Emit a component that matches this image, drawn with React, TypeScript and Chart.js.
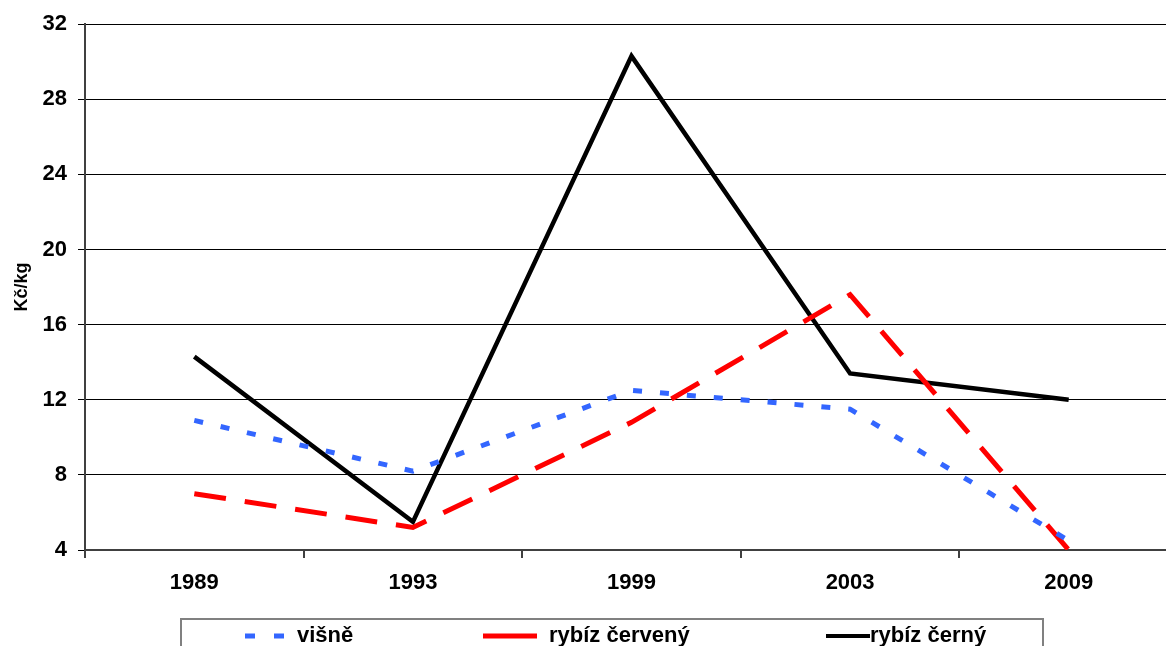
import React, { useEffect, useRef } from "react";
import { Chart, registerables } from "chart.js";

Chart.register(...registerables);

const years = ["1989", "1993", "1999", "2003", "2009"];
const visne = [10.9, 8.2, 12.5, 11.5, 4.5];
const rybizCerveny = [7.0, 5.2, 10.8, 17.6, 4.0];
const rybizCerny = [14.3, 5.5, 30.3, 13.4, 12.0];
const seriesLabels = ["višně", "rybíz červený", "rybíz černý"];
const yTitle = "Kč/kg";
const yMin = 4;
const yMax = 32;
const yStep = 4;

const FONT = "'Liberation Sans', Arial, sans-serif";

const legendLayout = [
  { x0: 245, x1: 285, tx: 297, dash: [10, 19], width: 5 },
  { x0: 483, x1: 537, tx: 549, dash: [], width: 5 },
  { x0: 826, x1: 870, tx: 870, dash: [], width: 4 },
];

const boxLegend = {
  id: "boxLegend",
  afterDraw(chart: any) {
    const ctx = chart.ctx;
    ctx.save();
    ctx.strokeStyle = "#808080";
    ctx.lineWidth = 2;
    ctx.setLineDash([]);
    ctx.strokeRect(181, 619, 862, 90);
    const y = 636;
    chart.data.datasets.forEach((ds: any, i: number) => {
      const l = legendLayout[i];
      ctx.beginPath();
      ctx.strokeStyle = ds.borderColor;
      ctx.lineWidth = l.width;
      ctx.lineCap = "butt";
      ctx.setLineDash(l.dash);
      ctx.moveTo(l.x0, y);
      ctx.lineTo(l.x1, y);
      ctx.stroke();
      ctx.setLineDash([]);
      ctx.fillStyle = "#000";
      ctx.font = `bold 22px ${FONT}`;
      ctx.textBaseline = "middle";
      ctx.textAlign = "left";
      ctx.fillText(ds.label, l.tx, y);
    });
    ctx.restore();
  },
};

export default function App() {
  const ref = useRef<HTMLCanvasElement | null>(null);

  useEffect(() => {
    if (!ref.current) return;
    const chart = new Chart(ref.current, {
      type: "line",
      data: {
        labels: years,
        datasets: [
          {
            label: seriesLabels[0],
            data: visne,
            borderColor: "#3366FF",
            borderWidth: 5,
            borderDash: [9, 18],
            borderCapStyle: "butt",
            pointRadius: 0,
            tension: 0,
            fill: false,
          },
          {
            label: seriesLabels[1],
            data: rybizCerveny,
            borderColor: "#FF0000",
            borderWidth: 5,
            borderDash: [32, 19],
            borderCapStyle: "butt",
            pointRadius: 0,
            tension: 0,
            fill: false,
          },
          {
            label: seriesLabels[2],
            data: rybizCerny,
            borderColor: "#000000",
            borderWidth: 4.5,
            pointRadius: 0,
            tension: 0,
            fill: false,
          },
        ],
      },
      options: {
        responsive: false,
        animation: false,
        devicePixelRatio: 1,
        layout: { padding: { top: 24, left: 0, right: 22, bottom: 0 } },
        plugins: {
          legend: { display: false },
          tooltip: { enabled: false },
        },
        scales: {
          x: {
            type: "category",
            offset: true,
            grid: {
              offset: true,
              drawOnChartArea: false,
              drawTicks: true,
              tickLength: 8,
              color: "#404040",
              lineWidth: 2,
            },
            border: { display: true, color: "#404040", width: 2 },
            ticks: {
              color: "#000",
              padding: 12,
              font: { family: FONT, size: 22, weight: "bold" },
              maxRotation: 0,
            },
            afterFit: (s: any) => {
              s.height = 130;
            },
          },
          y: {
            min: yMin,
            max: yMax,
            ticks: {
              stepSize: yStep,
              color: "#000",
              padding: 11,
              font: { family: FONT, size: 22, weight: "bold" },
            },
            grid: {
              color: "#000",
              lineWidth: 1,
              tickLength: 7,
            },
            border: { display: true, color: "#404040", width: 2 },
            title: {
              display: true,
              text: yTitle,
              color: "#000",
              font: { family: FONT, size: 18, weight: "bold" },
              padding: { top: 11, bottom: 0 },
            },
            afterFit: (s: any) => {
              s.width = 85;
            },
          },
        },
      },
      plugins: [boxLegend],
    });
    return () => chart.destroy();
  }, []);

  return (
    <div
      style={{
        position: "fixed",
        left: 0,
        top: 0,
        width: 1166,
        height: 646,
        overflow: "hidden",
        background: "#fff",
      }}
    >
      <canvas ref={ref} width={1200} height={680} style={{ display: "block" }} />
    </div>
  );
}
